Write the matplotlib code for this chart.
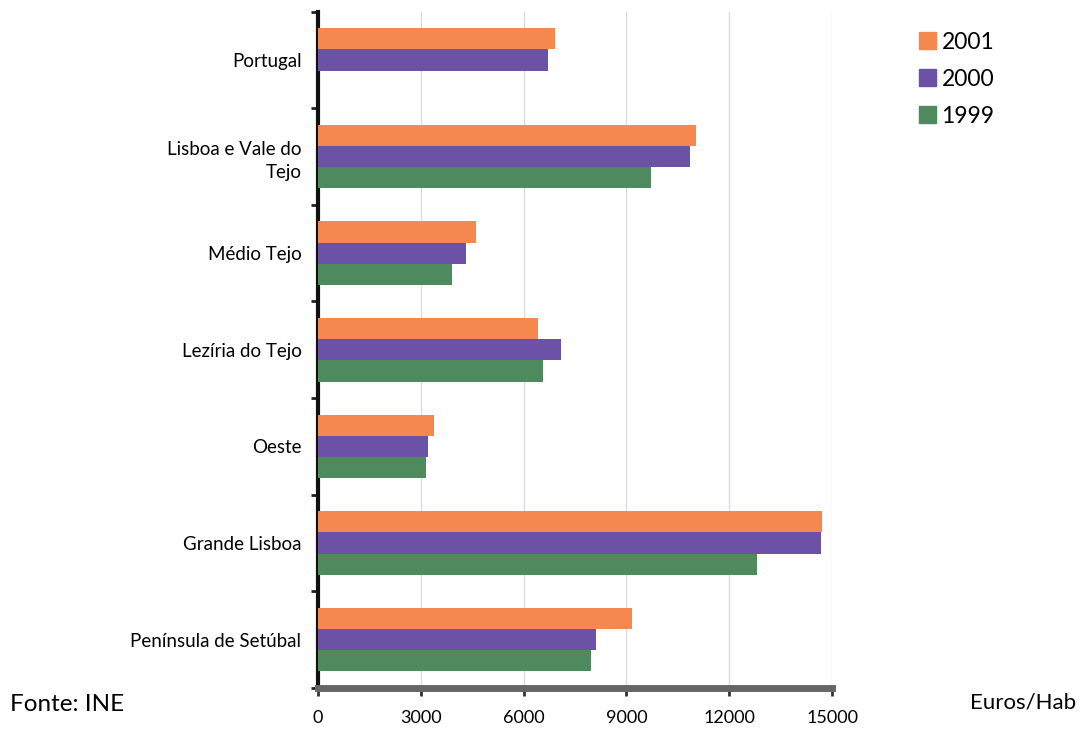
import numpy as np
import matplotlib.pyplot as plt
from matplotlib.patches import Patch

plt.rcParams['font.family'] = ['Lato', 'DejaVu Sans']

regions = ['Portugal', 'Lisboa e Vale do\nTejo', 'Médio Tejo', 'Lezíria do Tejo',
           'Oeste', 'Grande Lisboa', 'Península de Setúbal']
years = ['2001', '2000', '1999']
v2001 = [6900, 11020, 4620, 6420, 3370, 14710, 9160]
v2000 = [6700, 10840, 4330, 7090, 3200, 14680, 8110]
v1999 = [np.nan, 9710, 3920, 6570, 3140, 12820, 7970]
xticks = [0, 3000, 6000, 9000, 12000, 15000]

colors = ['#F5884F', '#6B52A6', '#4F8A5E']

fig = plt.figure(figsize=(10.82, 7.31), dpi=100)
ax = fig.add_axes([0.294, 0.059, 0.475, 0.925])

y = np.arange(len(regions))
h = 0.22
for i, (vals, c) in enumerate(zip([v2001, v2000, v1999], colors)):
    ax.barh(y + (i - 1) * h, vals, height=h, color=c, zorder=3)

ax.set_xlim(0, 15000)
ax.set_ylim(len(regions) - 0.5, -0.5)
ax.set_xticks(xticks)
ax.set_xticklabels([str(t) for t in xticks], fontsize=13)
ax.set_yticks(y)
ax.set_yticklabels(regions, fontsize=13.5, linespacing=1.45)
ax.tick_params(axis='y', length=0, pad=12)
ax.set_yticks(np.arange(len(regions) + 1) - 0.5, minor=True)
ax.tick_params(axis='y', which='minor', length=5, width=2, color='#222222')
ax.tick_params(axis='x', length=6, width=2, color='#333333', pad=10)

ax.grid(axis='x', color='#dddddd', linewidth=1, zorder=0)
for s in ['top', 'right']:
    ax.spines[s].set_visible(False)
ax.spines['left'].set_linewidth(3)
ax.spines['left'].set_color('#111111')
ax.spines['bottom'].set_linewidth(5)
ax.spines['bottom'].set_color('#666666')

handles = [Patch(color=c, label=l) for c, l in zip(colors, years)]
fig.legend(handles=handles, loc='upper left', bbox_to_anchor=(0.83, 0.985),
           frameon=False, fontsize=16.5, handlelength=0.75, handleheight=0.75,
           handletextpad=0.25, labelspacing=0.7)

fig.text(0.009, 0.022, 'Fonte: INE', fontsize=17.5, ha='left', va='bottom')
fig.text(0.995, 0.025, 'Euros/Hab', fontsize=16, ha='right', va='bottom')

fig.savefig('out.png', dpi=100)
